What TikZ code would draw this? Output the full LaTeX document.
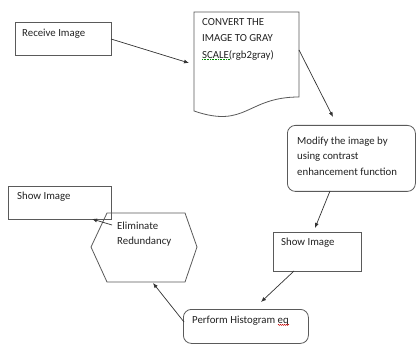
\documentclass[tikz,border=0pt]{standalone}
\usepackage{fontspec}
\setmainfont{Carlito}
\usetikzlibrary{arrows.meta,decorations.pathmorphing}
\definecolor{boxgray}{HTML}{5A5A5A}
\definecolor{txtgray}{HTML}{222222}
\begin{document}
\begin{tikzpicture}[x=1pt,y=-1pt,
  box/.style={draw=boxgray, line width=0.8pt, inner sep=0pt, anchor=north west},
  rbox/.style={box, rounded corners=8pt},
  txt/.style={font=\fontsize{10.8}{16.7}\selectfont, align=left, inner sep=0pt, anchor=north west, text=txtgray},
  txtb/.style={txt, font=\fontsize{10.8}{15.3}\selectfont},
  arr/.style={draw=black!80, line width=0.7pt, -{Latex[length=5pt,width=4pt]}}]
\useasboundingbox[fill=white] (0,0) rectangle (417,344);

% Receive Image
\node[box, minimum width=96pt, minimum height=33pt] (recv) at (15,22) {};
\node[txt] (recvT) at (22,29) {Receive Image};

% Document shape
\node[inner sep=0pt, minimum width=105pt, minimum height=96pt, anchor=north west] (doc) at (194,12) {};
\draw[draw=boxgray, line width=0.8pt] (194,12) -- (299,12) -- (299,97)
  .. controls (246.5,97) and (246.5,129) .. (194,111) -- cycle;
\node[txt] (docT) at (202,18) {CONVERT THE\\IMAGE TO GRAY\\SCALE(rgb2gray)};
\draw[green!55!black, densely dotted, line width=0.6pt]
  ([yshift=1.2pt]docT.south west) -- ([yshift=1.2pt,xshift=28pt]docT.south west);

% Modify
\node[rbox, minimum width=128pt, minimum height=66pt] (mod) at (287,125) {};
\node[txtb] (modT) at (297,137) {Modify the image by\\using contrast\\enhancement function};

% Show Image (right)
\node[box, minimum width=88pt, minimum height=39pt] (showR) at (273,232) {};
\node[txt] (showRT) at (281,238) {Show Image};

% Perform Histogram eq
\node[rbox, minimum width=125pt, minimum height=34pt] (perf) at (183,309) {};
\node[txt] (perfT) at (192,316) {Perform Histogram eq};
\draw[red!80!black, line width=0.4pt, decorate, decoration={zigzag, amplitude=0.6pt, segment length=2pt}]
  ([xshift=-11pt,yshift=0.8pt]perfT.south east) -- ([yshift=0.8pt]perfT.south east);

% Hexagon
\coordinate (hL) at (91,247);
\coordinate (hTL) at (107,213);
\coordinate (hTR) at (185,213);
\coordinate (hR) at (197,247);
\coordinate (hBR) at (185,282);
\coordinate (hBL) at (107,282);
\draw[draw=boxgray, line width=0.8pt] (hL) -- (hTL) -- (hTR) -- (hR) -- (hBR) -- (hBL) -- cycle;
\node[txtb] (elimT) at (117,222) {Eliminate\\Redundancy};

% Show Image (left)
\node[box, minimum width=103pt, minimum height=33pt] (showL) at (8,186) {};
\node[txt] (showLT) at (17,192) {Show Image};

% connectors
\coordinate (a1s) at (111,39);  \coordinate (a1e) at (189,63);
\coordinate (a2s) at (299,50);  \coordinate (a2e) at (333,117);
\coordinate (a3s) at (330,191); \coordinate (a3e) at (315,228);
\coordinate (a4s) at (294,271); \coordinate (a4e) at (261,302);
\coordinate (a5s) at (184,322); \coordinate (a5e) at (153,283);
\coordinate (a6s) at (112,225); \coordinate (a6e) at (92,219);
\draw[arr] (a1s) -- (a1e);
\draw[arr] (a2s) -- (a2e);
\draw[arr] (a3s) -- (a3e);
\draw[arr] (a4s) -- (a4e);
\draw[arr] (a5s) -- (a5e);
\draw[arr] (a6s) -- (a6e);
\end{tikzpicture}
\end{document}
